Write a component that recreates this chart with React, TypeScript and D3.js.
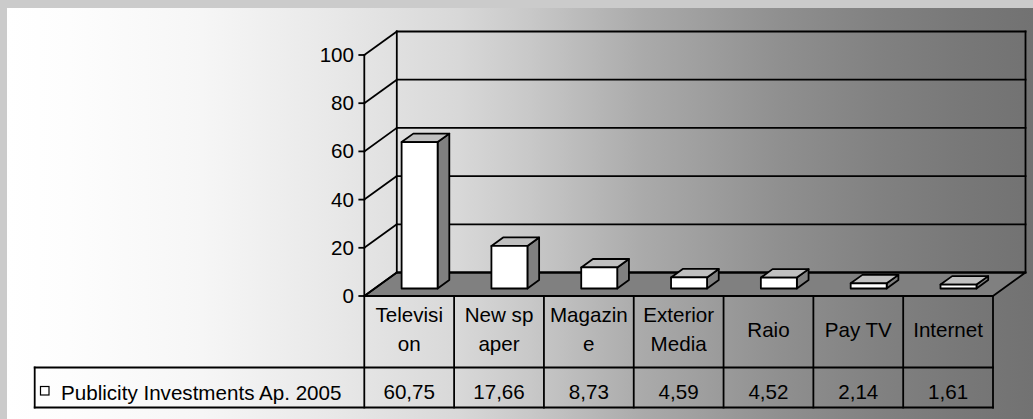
import React from "react";
import * as d3 from "d3";

// Publicity investments by medium, 2005 (percent share)
const seriesName = "Publicity Investments Ap. 2005";
const categories = ["Television", "Newspaper", "Magazine", "Exterior Media", "Raio", "Pay TV", "Internet"];
const categoryLines = [
  ["Televisi", "on"],
  ["New sp", "aper"],
  ["Magazin", "e"],
  ["Exterior", "Media"],
  ["Raio"],
  ["Pay TV"],
  ["Internet"],
];
const values = [60.75, 17.66, 8.73, 4.59, 4.52, 2.14, 1.61];
const yTicks = [0, 20, 40, 60, 80, 100];

const W = 1033;
const H = 419;
const FONT = "'Liberation Sans', Arial, sans-serif";
const FS = 20.6;
const SW = 1.8;

// 3D projection of the plot box: depth shift of the back plane
const DX = 32.5;
const DY = -23.5;
// depth band occupied by the columns (fraction of floor depth)
const D_FRONT = 0.32;
const D_BACK = 0.68;
const BAR_W = 36;

const fmt = (v: number) => d3.format(".2f")(v).replace(".", ",");

export default function App() {
  const x = d3.scaleBand<string>().domain(categories).range([364.3, 993]);
  const y = d3.scaleLinear().domain([0, 100]).range([296, 55]);
  const xL = x.range()[0];
  const xR = x.range()[1];

  const grad = [
    [0, "#ffffff"],
    [0.06, "#fdfdfd"],
    [0.19, "#f6f6f6"],
    [0.32, "#e8e8e8"],
    [0.44, "#d8d8d8"],
    [0.51, "#c8c8c8"],
    [0.62, "#aaaaaa"],
    [0.75, "#909090"],
    [0.85, "#818181"],
    [0.94, "#777777"],
    [1, "#727272"],
  ];

  const line = (x1: number, y1: number, x2: number, y2: number, key: string, sw = SW) => (
    <line key={key} x1={x1} y1={y1} x2={x2} y2={y2} stroke="#000" strokeWidth={sw} strokeLinecap="square" />
  );

  const floorPts = [
    [xL, y(0)],
    [xL + DX, y(0) + DY],
    [xR + DX, y(0) + DY],
    [xR, y(0)],
  ]
    .map((p) => p.join(","))
    .join(" ");

  const ddx = (D_BACK - D_FRONT) * DX;
  const ddy = (D_BACK - D_FRONT) * DY;

  const rowTop = y(0);
  const rowMid = 367.5;
  const rowBot = 407.5;
  const legendLeft = 34.7;

  return (
    <svg
      width={W}
      height={H}
      style={{ position: "absolute", left: 0, top: 0, display: "block" }}
      fontFamily={FONT}
    >
      <defs>
        <linearGradient id="bg" x1="0" y1="0" x2="1" y2="0">
          {grad.map(([o, c]) => (
            <stop key={String(o)} offset={Number(o)} stopColor={String(c)} />
          ))}
        </linearGradient>
      </defs>
      <rect x={0} y={0} width={W} height={H} fill="#cbcbcb" />
      <rect x={7} y={8} width={W - 7} height={H - 8} fill="url(#bg)" />

      {/* floor */}
      <polygon points={floorPts} fill="#808080" stroke="#000" strokeWidth={SW} strokeLinejoin="round" />

      {/* back wall gridlines and frame */}
      {yTicks.map((t) => line(xL + DX, y(t) + DY, xR + DX, y(t) + DY, "g" + t))}
      {line(xL + DX, y(0) + DY, xL + DX, y(100) + DY, "bwl")}
      {line(xR + DX, y(0) + DY, xR + DX, y(100) + DY, "bwr")}

      {/* side wall diagonals */}
      {yTicks.map((t) => line(xL, y(t), xL + DX, y(t) + DY, "s" + t))}
      {line(xL, y(0), xL, y(100), "axis")}

      {/* ticks and labels */}
      {yTicks.map((t) => (
        <g key={"t" + t}>
          {line(xL - 5, y(t), xL, y(t), "tk" + t)}
          <text x={354} y={y(t) + 7} textAnchor="end" fontSize={FS} fill="#000">
            {t}
          </text>
        </g>
      ))}

      {/* columns */}
      {categories.map((c, i) => {
        const cx = (x(c) as number) + x.bandwidth() / 2 + D_FRONT * DX;
        const x0 = cx - BAR_W / 2;
        const x1 = cx + BAR_W / 2;
        const yb = y(0) + D_FRONT * DY;
        const yt = y(values[i]) + D_FRONT * DY;
        const side = [
          [x1, yt],
          [x1 + ddx, yt + ddy],
          [x1 + ddx, yb + ddy],
          [x1, yb],
        ];
        const top = [
          [x0, yt],
          [x0 + ddx, yt + ddy],
          [x1 + ddx, yt + ddy],
          [x1, yt],
        ];
        const pts = (a: number[][]) => a.map((p) => p.join(",")).join(" ");
        return (
          <g key={c} stroke="#000" strokeWidth={SW} strokeLinejoin="round">
            <polygon points={pts(side)} fill="#808080" />
            <polygon points={pts(top)} fill="#c0c0c0" />
            <rect x={x0} y={yt} width={BAR_W} height={yb - yt} fill="#ffffff" />
          </g>
        );
      })}

      {/* data table */}
      {line(xL, rowTop, xL, rowBot, "tl")}
      {categories.map((c) => line((x(c) as number) + x.bandwidth(), rowTop, (x(c) as number) + x.bandwidth(), rowBot, "tv" + c))}
      {line(legendLeft, rowMid, xR, rowMid, "tm")}
      {line(legendLeft, rowBot, xR, rowBot, "tb")}
      {line(legendLeft, rowMid, legendLeft, rowBot, "ll")}

      {categories.map((c, i) => {
        const lines = categoryLines[i];
        const cx = (x(c) as number) + x.bandwidth() / 2;
        const lh = 29.5;
        const base = 336.5 - ((lines.length - 1) * lh) / 2;
        return (
          <g key={"lab" + c}>
            {lines.map((s, j) => (
              <text key={j} x={cx} y={base + j * lh} textAnchor="middle" fontSize={FS} fill="#000">
                {s}
              </text>
            ))}
            <text x={cx} y={398.5} textAnchor="middle" fontSize={FS} fill="#000">
              {fmt(values[i])}
            </text>
          </g>
        );
      })}

      {/* legend key */}
      <rect x={40.5} y={386.5} width={8.5} height={8.5} fill="#ffffff" stroke="#000" strokeWidth={1.2} />
      <text x={61} y={400} fontSize={FS} fill="#000">
        {seriesName}
      </text>
    </svg>
  );
}
